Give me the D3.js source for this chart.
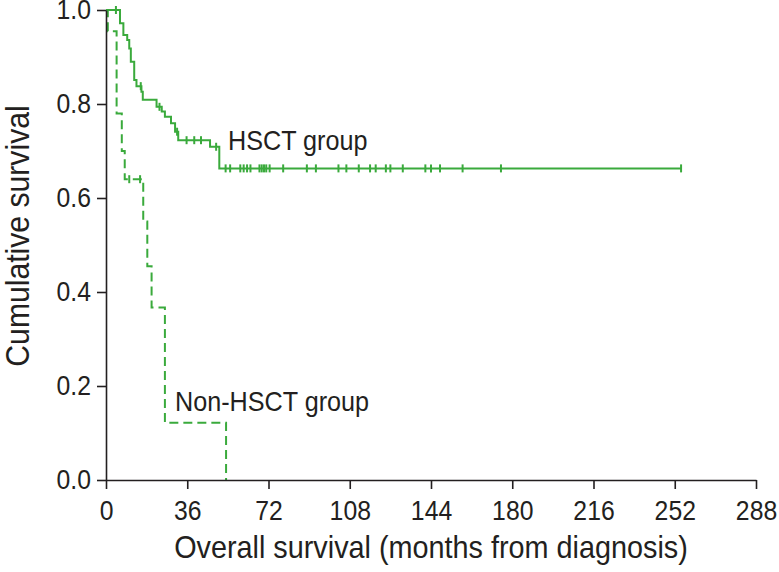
<!DOCTYPE html>
<html>
<head>
<meta charset="utf-8">
<script src="https://cdn.jsdelivr.net/npm/d3@7"></script>
<style>
  html, body { margin: 0; padding: 0; background: #fff; }
  svg { display: block; }
</style>
</head>
<body>
<svg id="chart" width="779" height="572"></svg>
<script>
// ---- data ----
const xTicks = [0, 36, 72, 108, 144, 180, 216, 252, 288];
const yTicks = [0.0, 0.2, 0.4, 0.6, 0.8, 1.0];

// HSCT group: step times (months) and survival after each step
const hsctTimes = [0, 6.2, 7.7, 9.4, 10.3, 11.0, 12.5, 13.5, 15.7, 16.3, 22.4, 24.7, 26.1, 28.8, 30.6, 32.0, 46.1, 50.2, 254.8];
const hsctSurv  = [1.0, 0.972, 0.947, 0.936, 0.918, 0.890, 0.851, 0.838, 0.826, 0.809, 0.794, 0.784, 0.773, 0.759, 0.741, 0.723, 0.709, 0.663, 0.663];
const hsctCensor = [4.4, 15.4, 23.7, 31.5, 35.7, 39.1, 42.1, 48.8,
  53, 55, 59.5, 61, 62.5, 64, 68, 69, 70, 71, 72.5, 78.5, 89, 93, 103, 106.5,
  112, 117, 119.5, 124, 126, 131.5, 141.5, 144, 148, 158, 175, 254.8];

// Non-HSCT group
const nonTimes = [0, 0.8, 4.7, 7.0, 8.3, 16.5, 18.3, 20.2, 26.1, 53.2];
const nonSurv  = [1.0, 0.955, 0.78, 0.70, 0.64, 0.55, 0.455, 0.367, 0.122, 0.0];
const nonCensor = [10.3, 15.1];

const xTitle = "Overall survival (months from diagnosis)";
const yTitle = "Cumulative survival";
const hsctLabel = "HSCT group";
const nonLabel = "Non-HSCT group";

// ---- drawing ----
const green = "#3aaa3c";
const ink = "#231f20";
const font = "'Liberation Sans', Arial, Helvetica, sans-serif";
const SX = 0.9; // horizontal condensation of the reference typeface

const svg = d3.select("#chart");
const x = d3.scaleLinear().domain([0, 288]).range([106, 756]);
const y = d3.scaleLinear().domain([0, 1]).range([480, 10]);

const line = d3.line().x(d => x(d[0])).y(d => y(d[1])).curve(d3.curveStepAfter);

const hsctPts = hsctTimes.map((t, i) => [t, hsctSurv[i]]);
const nonPts = nonTimes.map((t, i) => [t, nonSurv[i]]);

function survAt(times, surv, t) {
  let s = surv[0];
  for (let i = 0; i < times.length; i++) if (times[i] <= t) s = surv[i];
  return s;
}

svg.append("path").datum(hsctPts).attr("d", line)
  .attr("fill", "none").attr("stroke", green).attr("stroke-width", 2);

svg.append("path").datum(nonPts).attr("d", line)
  .attr("fill", "none").attr("stroke", green).attr("stroke-width", 2)
  .attr("stroke-dasharray", "9,5");

svg.selectAll(".hc").data(hsctCensor).enter().append("line")
  .attr("x1", d => x(d)).attr("x2", d => x(d))
  .attr("y1", d => y(survAt(hsctTimes, hsctSurv, d)) - 4)
  .attr("y2", d => y(survAt(hsctTimes, hsctSurv, d)) + 4)
  .attr("stroke", green).attr("stroke-width", 2);

svg.selectAll(".nc").data(nonCensor).enter().append("line")
  .attr("x1", d => x(d)).attr("x2", d => x(d))
  .attr("y1", d => y(survAt(nonTimes, nonSurv, d)) - 4)
  .attr("y2", d => y(survAt(nonTimes, nonSurv, d)) + 4)
  .attr("stroke", green).attr("stroke-width", 2);

// axes
const xAxis = d3.axisBottom(x).tickValues(xTicks).tickSize(9).tickSizeOuter(0).tickPadding(11)
  .tickFormat(d3.format("d"));
const yAxis = d3.axisLeft(y).tickValues(yTicks).tickSize(9).tickSizeOuter(0).tickPadding(6)
  .tickFormat(d3.format(".1f"));

const gx = svg.append("g").attr("transform", `translate(0,${y(0)})`).call(xAxis);
const gy = svg.append("g").attr("transform", `translate(${x(0)},0)`).call(yAxis);

[gx, gy].forEach(g => {
  g.select(".domain").attr("stroke", ink).attr("stroke-width", 1.6);
  g.selectAll(".tick line").attr("stroke", ink).attr("stroke-width", 1.6);
  g.selectAll(".tick text").each(function () {
    const t = d3.select(this);
    const tx = +t.attr("x") || 0;
    const ty = +t.attr("y") || 0;
    t.attr("x", 0).attr("y", 0)
      .attr("transform", `translate(${tx},${ty}) scale(${SX},1)`)
      .attr("fill", ink).style("font-family", font).style("font-size", "27.5px");
  });
});

function condensedText(px, py, size, anchor, rotate, str) {
  return svg.append("text")
    .attr("transform", `translate(${px},${py}) rotate(${rotate}) scale(${SX},1)`)
    .attr("text-anchor", anchor)
    .style("font-family", font).style("font-size", size + "px")
    .attr("fill", ink).text(str);
}

// titles
condensedText(431, 558, 32, "middle", 0, xTitle);
condensedText(29, 236, 33.5, "middle", -90, yTitle);

// group labels
condensedText(228, 150, 28, "start", 0, hsctLabel);
condensedText(175, 411, 28, "start", 0, nonLabel);
</script>
</body>
</html>
